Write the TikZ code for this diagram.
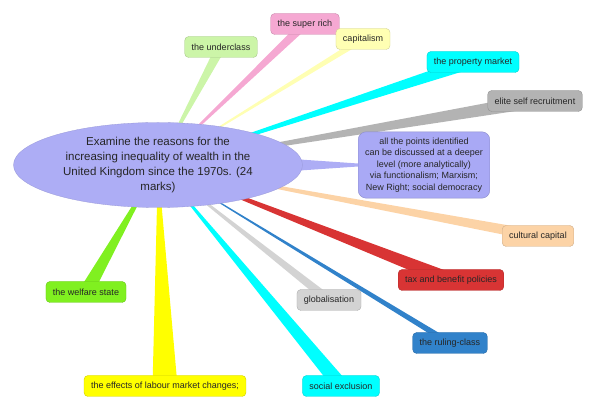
\documentclass[tikz,border=0pt]{standalone}
\usepackage{fontspec}
\setmainfont{Liberation Sans}
\usetikzlibrary{shapes.geometric,calc,backgrounds}
\definecolor{lav}{HTML}{ADADF5}
\definecolor{cunder}{HTML}{CCF5A8}
\definecolor{crich}{HTML}{F5A8D2}
\definecolor{ccap}{HTML}{FFFFB3}
\definecolor{cprop}{HTML}{00FFFF}
\definecolor{celite}{HTML}{B3B3B3}
\definecolor{cpts}{HTML}{A9A9F5}
\definecolor{ccult}{HTML}{FCD3A6}
\definecolor{ctax}{HTML}{D83434}
\definecolor{cglob}{HTML}{D3D3D3}
\definecolor{crule}{HTML}{3182CA}
\definecolor{csoc}{HTML}{00FFFF}
\definecolor{cwelf}{HTML}{80F020}
\definecolor{clab}{HTML}{FFFF00}
\tikzset{leaf/.style={draw=#1!82!black,line width=.4pt,fill=#1,rounded corners=4pt,inner xsep=7pt,minimum height=21pt,font=\fontsize{9}{11}\selectfont,text=black!85}}

\begin{document}
\begin{tikzpicture}[x=1pt,y=-1pt]
\useasboundingbox (0,0) rectangle (595,411);
\node[ellipse,fill=lav,draw=lav!88!black,line width=.3pt,minimum width=289pt,minimum height=85pt,inner sep=0pt,align=center,font=\fontsize{11.5}{15}\selectfont,text=black!85] (root) at (158,165) {Examine the reasons for the\\increasing inequality of wealth in the\\United Kingdom since the 1970s. (24\\marks)};
\foreach \n/\x/\y/\c/\lab in {under/221/47/cunder/the underclass,rich/305/24/crich/the super rich,cap/363/39/ccap/capitalism,prop/473/62/cprop/the property market,elite/535/101/celite/elite self recruitment,cult/538/236/ccult/cultural capital,tax/451/280/ctax/tax and benefit policies,glob/329/300/cglob/globalisation,rule/450/343/crule/the ruling-class,soc/341/386/csoc/social exclusion,welf/86/292/cwelf/the welfare state,lab/165/386/clab/the effects of labour market changes;}
  \node[leaf=\c] (\n) at (\x,\y) {\lab};
\node[leaf=cpts,rounded corners=8pt,inner ysep=6pt,align=center,font=\fontsize{9}{11.5}\selectfont] (pts) at (424,165) {all the points identified\\can be discussed at a deeper\\level (more analytically)\\via functionalism; Marxism;\\New Right; social democracy};
\begin{scope}[on background layer]
\foreach \n/\w/\c in {under/5pt/cunder,rich/4.5pt/crich,cap/3pt/ccap,prop/6pt/cprop,elite/7pt/celite,cult/5.5pt/ccult,tax/7pt/ctax,glob/4.5pt/cglob,rule/3pt/crule,soc/7.5pt/csoc,welf/7pt/cwelf,lab/12.5pt/clab}
  \fill[\c] (root.center) -- ($(\n.center)!\w!90:(root.center)$) -- ($(\n.center)!\w!-90:(root.center)$) -- cycle;
\fill[lav] ($(root.east)+(-10,-6)$) -- ($(pts.west)+(0,-1.5)$) -- ($(pts.west)+(0,1.5)$) -- ($(root.east)+(-10,6)$) -- cycle;
\end{scope}
\end{tikzpicture}
\end{document}
